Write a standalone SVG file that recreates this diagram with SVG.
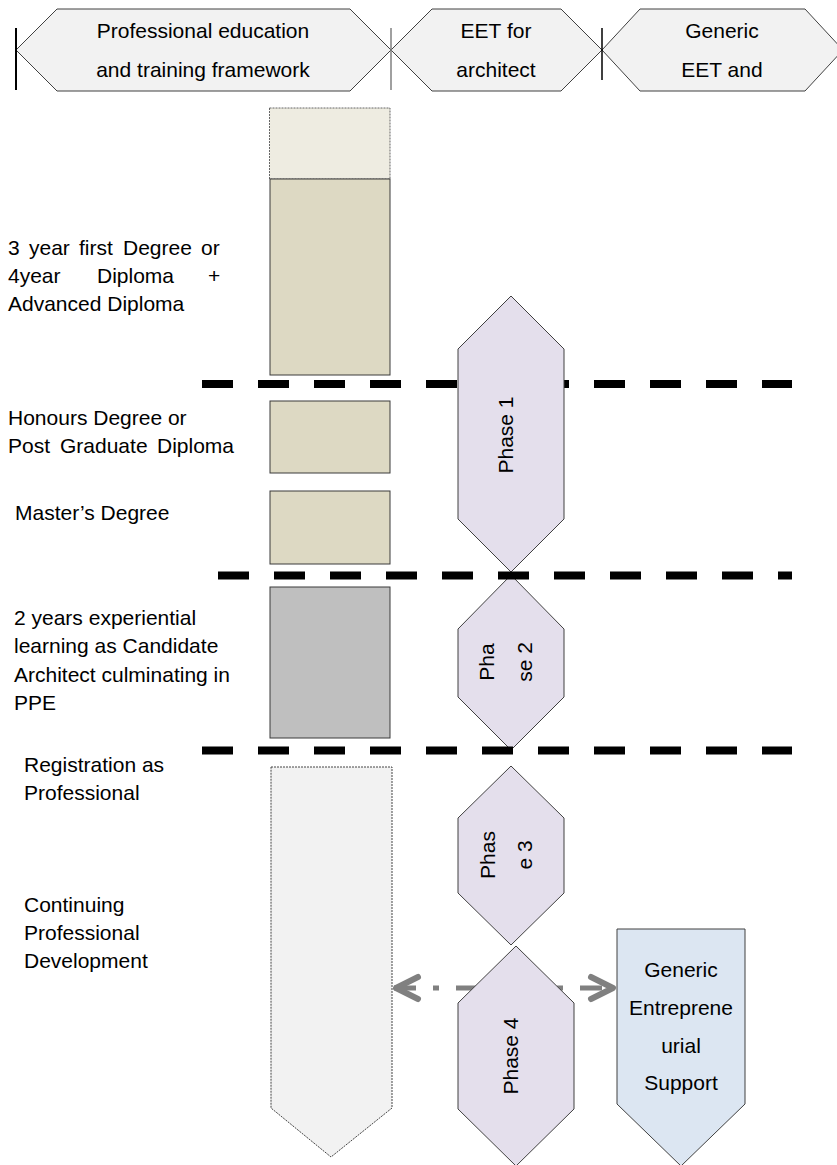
<svg xmlns="http://www.w3.org/2000/svg" width="837" height="1165" viewBox="0 0 837 1165">
  <style>
    text { font-family: "Liberation Sans", Arial, sans-serif; font-size: 21px; fill: #000; }
    .mid { text-anchor: middle; }
    .hdr { fill: #F2F2F2; stroke: #404040; stroke-width: 1; }
    .phase { fill: #E4DFEC; stroke: #404040; stroke-width: 1; }
    .tan { fill: #DDD9C3; stroke: #3A3A3A; stroke-width: 1; }
    .cut { stroke: #000; stroke-width: 8; stroke-dasharray: 31 25; fill: none; }
    .link { stroke: #808080; stroke-width: 5; fill: none; }
  </style>
  <defs>
    <marker id="chevron" viewBox="-30 -16 34 32" markerWidth="34" markerHeight="32" refX="0" refY="0" markerUnits="userSpaceOnUse" orient="auto-start-reverse">
      <path d="M-24,-11 L-2,0 L-24,11" fill="none" stroke="#808080" stroke-width="6" stroke-linecap="round" stroke-linejoin="round"/>
    </marker>
  </defs>

  <rect width="837" height="1165" fill="#FFFFFF"/>

  <!-- column headers -->
  <g id="header-framework">
    <polygon class="hdr" points="16,50 57,9 350,9 391,50 350,91 57,91"/>
    <text class="mid" x="203" y="38">Professional education</text>
    <text class="mid" x="203" y="77">and training framework</text>
  </g>
  <g id="header-eet-architect">
    <polygon class="hdr" points="391,50 432,9 561,9 602,50 561,91 432,91"/>
    <text class="mid" x="496" y="38">EET for</text>
    <text class="mid" x="496" y="77">architect</text>
  </g>
  <g id="header-generic">
    <polygon class="hdr" points="602,50 640,9 805,9 843,50 805,91 640,91"/>
    <text class="mid" x="722" y="38">Generic</text>
    <text class="mid" x="722" y="77">EET and</text>
  </g>
  <g id="header-dividers">
    <line x1="16" y1="28" x2="16" y2="90" stroke="#000" stroke-width="2"/>
    <line x1="391" y1="28" x2="391" y2="90" stroke="#808080" stroke-width="1.5"/>
    <line x1="602" y1="28" x2="602" y2="80" stroke="#000" stroke-width="1.5"/>
  </g>

  <!-- stage labels -->
  <g id="label-first-degree">
    <text y="255"><tspan x="8">3</tspan><tspan x="29">year</tspan><tspan x="79">first</tspan><tspan x="123">Degree</tspan><tspan x="201">or</tspan></text>
    <text y="283"><tspan x="8">4year</tspan><tspan x="97">Diploma</tspan><tspan x="208">+</tspan></text>
    <text x="8" y="311">Advanced Diploma</text>
  </g>
  <g id="label-honours">
    <text x="8" y="425">Honours Degree or</text>
    <text y="453"><tspan x="8">Post</tspan><tspan x="60">Graduate</tspan><tspan x="157">Diploma</tspan></text>
  </g>
  <g id="label-masters">
    <text x="15" y="520">Master’s Degree</text>
  </g>
  <g id="label-experiential">
    <text x="14" y="625">2 years experiential</text>
    <text x="14" y="653">learning as Candidate</text>
    <text x="14" y="682">Architect culminating in</text>
    <text x="14" y="710">PPE</text>
  </g>
  <g id="label-registration">
    <text x="24" y="772">Registration as</text>
    <text x="24" y="800">Professional</text>
  </g>
  <g id="label-cpd">
    <text x="24" y="912">Continuing</text>
    <text x="24" y="940">Professional</text>
    <text x="24" y="968">Development</text>
  </g>

  <!-- framework column -->
  <g id="box-foundation">
    <rect x="269.5" y="108" width="120.5" height="71" fill="#EEECE1" stroke="#666" stroke-width="1" stroke-dasharray="2 1"/>
  </g>
  <g id="box-first-degree">
    <rect class="tan" x="270" y="179" width="120" height="196" stroke-width="1.5" stroke="#222"/>
  </g>
  <g id="box-honours">
    <rect class="tan" x="270" y="401" width="120" height="72"/>
  </g>
  <g id="box-masters">
    <rect class="tan" x="270" y="491" width="120" height="73"/>
  </g>
  <g id="box-experiential">
    <rect x="270" y="587" width="120" height="151" fill="#BFBFBF" stroke="#3A3A3A" stroke-width="1"/>
  </g>
  <g id="box-cpd">
    <polygon points="271,767 392,767 392,1108 331,1157 271,1108" fill="#F2F2F2" stroke="#444" stroke-width="1" stroke-dasharray="2 1"/>
  </g>

  <!-- first stage boundary sits behind phase 1 -->
  <line class="cut" x1="202" y1="384" x2="792" y2="384"/>

  <!-- phases -->
  <g id="phase-1">
    <polygon class="phase" points="511,296 564,349 564,519 511,572 458,519 458,349"/>
    <text class="mid" transform="translate(513,435) rotate(-90)">Phase 1</text>
  </g>
  <g id="phase-2">
    <polygon class="phase" points="511,575 564,629 564,697 511,750 458,697 458,629"/>
    <text class="mid" transform="translate(494,662) rotate(-90)">Pha</text>
    <text class="mid" transform="translate(532,662) rotate(-90)">se 2</text>
  </g>
  <g id="phase-3">
    <polygon class="phase" points="511,766 564,818 564,893 511,945 458,893 458,818"/>
    <text class="mid" transform="translate(495,855) rotate(-90)">Phas</text>
    <text class="mid" transform="translate(532,855) rotate(-90)">e 3</text>
  </g>

  <!-- connectors -->
  <g id="connectors">
    <path class="link" d="M394,988 L615,988" stroke-dasharray="22 17 6 17" marker-start="url(#chevron)" marker-end="url(#chevron)"/>
  </g>

  <g id="phase-4">
    <polygon class="phase" points="516,946 574,1003 574,1109 516,1166 458,1109 458,1003"/>
    <text class="mid" transform="translate(518,1056) rotate(-90)">Phase 4</text>
  </g>
  <g id="generic-support">
    <polygon points="617,929 745,929 745,1104 681,1166 617,1104" fill="#DCE6F2" stroke="#404040" stroke-width="1"/>
    <text class="mid" x="681" y="977">Generic</text>
    <text class="mid" x="681" y="1015">Entreprene</text>
    <text class="mid" x="681" y="1053">urial</text>
    <text class="mid" x="681" y="1090">Support</text>
  </g>

  <!-- remaining stage boundaries -->
  <line class="cut" x1="218" y1="575.5" x2="792" y2="575.5"/>
  <line class="cut" x1="202" y1="750.5" x2="792" y2="750.5"/>
</svg>
